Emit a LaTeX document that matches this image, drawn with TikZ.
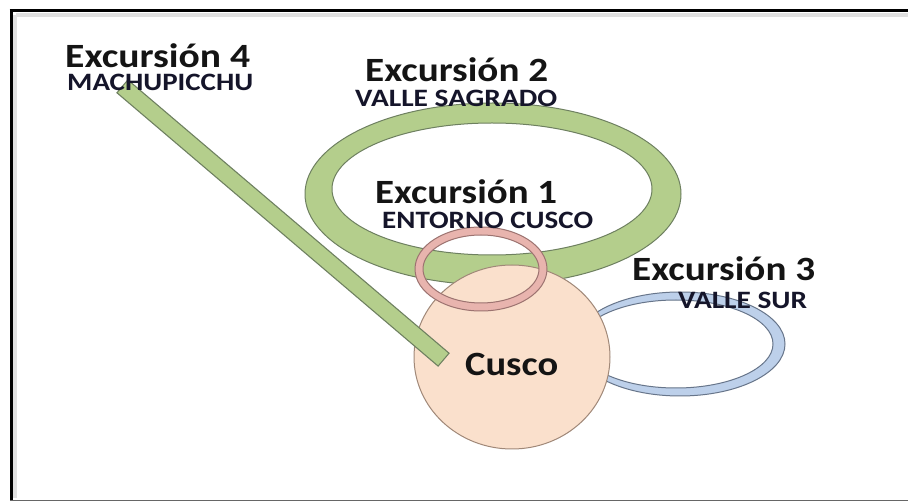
\documentclass[tikz,border=0pt]{standalone}
\usepackage{fontspec}
\setmainfont{Carlito}
\usetikzlibrary{shapes.geometric}
\definecolor{grn}{HTML}{B4CE8C}
\definecolor{grnline}{HTML}{6E8060}
\definecolor{pnk}{HTML}{E8B4AE}
\definecolor{pnkline}{HTML}{9C7370}
\definecolor{blu}{HTML}{BDD0EA}
\definecolor{bluline}{HTML}{67758A}
\definecolor{peach}{HTML}{FAE0CC}
\definecolor{peachline}{HTML}{A08878}
\definecolor{txt}{HTML}{141414}
\definecolor{subtxt}{HTML}{15152A}
\newcommand{\headlbl}[2]{\resizebox{#1pt}{\height}{\fontsize{34}{36}\selectfont\bfseries #2}}
\newcommand{\sublbl}[2]{\resizebox{#1pt}{\height}{\fontsize{25}{27}\selectfont\bfseries #2}}
\begin{document}
\begin{tikzpicture}[x=1pt,y=-1pt,
  lbl/.style={inner sep=0pt, anchor=base west, text=txt},
  sublabel/.style={inner sep=0pt, anchor=base west, text=subtxt},
  ringline/.style={line width=1pt}]
\useasboundingbox (0,0) rectangle (908,502);
\fill[white] (0,0) rectangle (908,502);
% frame
\draw[black!12, line width=4pt] (16,15) -- (908,15);
\draw[black!12, line width=4pt] (15,15) -- (15,498);
\draw[black, line width=3pt] (9.5,11) -- (908,11);
\draw[black, line width=3pt] (11,9.5) -- (11,500);
\draw[black!60, line width=1.5pt] (10,500.5) -- (908,500.5);
% Excursion 2 ring (green)
\fill[grn, even odd rule] (493,194) ellipse [x radius=188, y radius=91]
                           (492,189) ellipse [x radius=160, y radius=66];
\draw[grnline, ringline] (493,194) ellipse [x radius=188, y radius=91];
\draw[grnline, ringline] (492,189) ellipse [x radius=160, y radius=66];
% Excursion 3 ring (blue)
\fill[blu, even odd rule] (680,344) ellipse [x radius=105, y radius=52]
                           (676,344) ellipse [x radius=97, y radius=44];
\draw[bluline, ringline] (680,344) ellipse [x radius=105, y radius=52];
\draw[bluline, ringline] (676,344) ellipse [x radius=97, y radius=44];
% Cusco
\node[ellipse, draw=peachline, fill=peach, line width=1pt, minimum width=196pt, minimum height=184pt, inner sep=0pt] (cusco) at (512,357) {};
% Excursion 1 ring (pink)
\fill[pnk, even odd rule] (481,269) ellipse [x radius=66, y radius=42]
                           (481,269) ellipse [x radius=58, y radius=34];
\draw[pnkline, ringline] (481,269) ellipse [x radius=66, y radius=42];
\draw[pnkline, ringline] (481,269) ellipse [x radius=58, y radius=34];
% Excursion 4 bar
\coordinate (e4s) at (122,86);
\coordinate (e4e) at (444,360);
\draw[grnline, line width=18pt] (e4s) -- (e4e);
\draw[grn, line width=15.5pt, shorten <=1.2pt, shorten >=1.2pt] (e4s) -- (e4e);
% labels
\node[lbl] (t4) at (65,68) {\headlbl{185}{Excursión 4}};
\node[sublabel] (s4) at (67,91) {\sublbl{186}{MACHUPICCHU}};
\node[lbl] (t2) at (365,82) {\headlbl{183}{Excursión 2}};
\node[sublabel] (s2) at (355,107) {\sublbl{202}{VALLE SAGRADO}};
\node[lbl] (t1) at (375,204) {\headlbl{182}{Excursión 1}};
\node[sublabel] (s1) at (382,229) {\sublbl{211}{ENTORNO CUSCO}};
\node[lbl] (t3) at (632,281) {\headlbl{183}{Excursión 3}};
\node[sublabel] (s3) at (678,309) {\sublbl{129}{VALLE SUR}};
\node[lbl] (tc) at (465,376) {\headlbl{93}{Cusco}};
\end{tikzpicture}
\end{document}
